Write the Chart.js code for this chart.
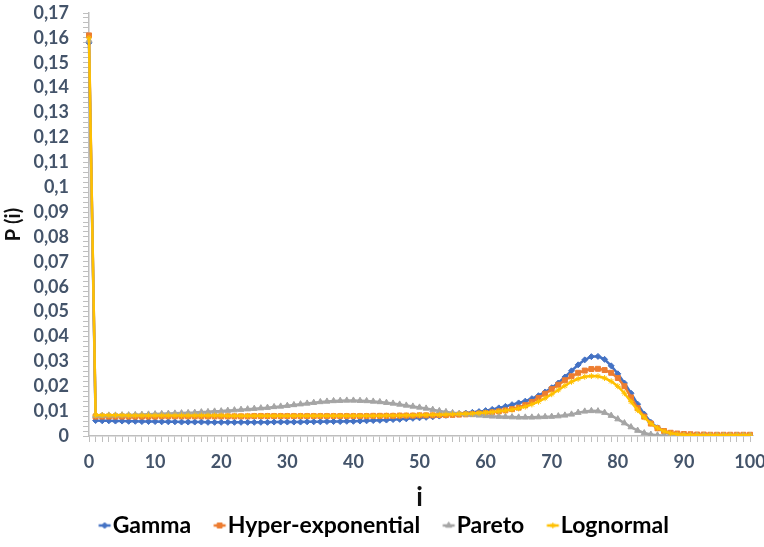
<!DOCTYPE html>
<html>
<head>
<meta charset="utf-8">
<script src="https://cdn.jsdelivr.net/npm/chart.js@4.4.1/dist/chart.umd.min.js"></script>
<style>
  body { margin: 0; background: #fff; }
  #chart { display: block; }
</style>
</head>
<body>
<canvas id="chart" width="764" height="547"></canvas>
<script>
// x categories (i = 0..100)
const iValues = [
  0, 1, 2, 3, 4, 5, 6, 7, 8, 9, 10, 11, 12, 13, 14, 15, 16, 17, 18, 19, 20,
  21, 22, 23, 24, 25, 26, 27, 28, 29, 30, 31, 32, 33, 34, 35, 36, 37, 38, 39, 40,
  41, 42, 43, 44, 45, 46, 47, 48, 49, 50, 51, 52, 53, 54, 55, 56, 57, 58, 59, 60,
  61, 62, 63, 64, 65, 66, 67, 68, 69, 70, 71, 72, 73, 74, 75, 76, 77, 78, 79, 80,
  81, 82, 83, 84, 85, 86, 87, 88, 89, 90, 91, 92, 93, 94, 95, 96, 97, 98, 99, 100
];

const gamma = [
  0.158,
  0.0062, 0.0061, 0.0061, 0.0060, 0.0060, 0.0059, 0.0059, 0.0058, 0.0058, 0.0058,
  0.0057, 0.0057, 0.0057, 0.0056, 0.0056, 0.0056, 0.0056, 0.0055, 0.0055, 0.0055,
  0.0055, 0.0055, 0.0055, 0.0055, 0.0055, 0.0055, 0.0055, 0.0056, 0.0056, 0.0056,
  0.0056, 0.0056, 0.0057, 0.0057, 0.0057, 0.0058, 0.0058, 0.0058, 0.0059, 0.0059,
  0.0060, 0.0061, 0.0062, 0.0063, 0.0064, 0.0066, 0.0067, 0.0069, 0.0071, 0.0073,
  0.0075, 0.0077, 0.0080, 0.0083, 0.0086, 0.0089, 0.0092, 0.0095, 0.0098, 0.0102,
  0.0107, 0.0113, 0.0119, 0.0126, 0.0133, 0.0140, 0.0150, 0.0162, 0.0177, 0.0194,
  0.0213, 0.0237, 0.0262, 0.0286, 0.0306, 0.0319, 0.0320, 0.0308, 0.0282, 0.0250,
  0.0213, 0.0172, 0.0128, 0.0088, 0.0055, 0.0033, 0.0019, 0.0011, 0.0006, 0.0003,
  0.0002, 0.0001, 0.0001, 0.0001, 0.0001, 0.0001, 0.0001, 0.0001, 0.0001, 0.0001
];

const hyperExp = [
  0.161,
  0.0078, 0.0078, 0.0078, 0.0078, 0.0078, 0.0078, 0.0078, 0.0078, 0.0078, 0.0078,
  0.0079, 0.0079, 0.0079, 0.0079, 0.0079, 0.0079, 0.0079, 0.0079, 0.0079, 0.0079,
  0.0079, 0.0079, 0.0079, 0.0079, 0.0080, 0.0080, 0.0080, 0.0080, 0.0080, 0.0080,
  0.0080, 0.0080, 0.0080, 0.0080, 0.0080, 0.0080, 0.0080, 0.0080, 0.0080, 0.0080,
  0.0080, 0.0080, 0.0081, 0.0081, 0.0081, 0.0081, 0.0082, 0.0082, 0.0082, 0.0083,
  0.0083, 0.0083, 0.0084, 0.0084, 0.0085, 0.0086, 0.0087, 0.0088, 0.0090, 0.0092,
  0.0095, 0.0099, 0.0103, 0.0108, 0.0114, 0.0124, 0.0137, 0.0153, 0.0170, 0.0188,
  0.0206, 0.0224, 0.0240, 0.0254, 0.0263, 0.0269, 0.0270, 0.0265, 0.0254, 0.0233,
  0.0200, 0.0155, 0.0112, 0.0078, 0.0050, 0.0031, 0.0020, 0.0013, 0.0010, 0.0008,
  0.0007, 0.0006, 0.0006, 0.0005, 0.0005, 0.0005, 0.0005, 0.0005, 0.0005, 0.0005
];

const pareto = [
  0.159,
  0.0082, 0.0082, 0.0083, 0.0083, 0.0084, 0.0084, 0.0085, 0.0086, 0.0087, 0.0088,
  0.0089, 0.0090, 0.0091, 0.0092, 0.0093, 0.0094, 0.0096, 0.0097, 0.0099, 0.0100,
  0.0102, 0.0104, 0.0106, 0.0108, 0.0110, 0.0112, 0.0114, 0.0117, 0.0119, 0.0122,
  0.0125, 0.0128, 0.0131, 0.0134, 0.0137, 0.0139, 0.0141, 0.0142, 0.0143, 0.0143,
  0.0142, 0.0141, 0.0139, 0.0137, 0.0134, 0.0131, 0.0127, 0.0123, 0.0119, 0.0115,
  0.0111, 0.0106, 0.0101, 0.0097, 0.0093, 0.0090, 0.0087, 0.0085, 0.0083, 0.0081,
  0.0079, 0.0078, 0.0077, 0.0076, 0.0075, 0.0075, 0.0075, 0.0076, 0.0077, 0.0078,
  0.0080, 0.0083, 0.0087, 0.0094, 0.0099, 0.0101, 0.0100, 0.0094, 0.0082, 0.0068,
  0.0052, 0.0036, 0.0022, 0.0012, 0.0006, 0.0003, 0.0002, 0.0002, 0.0002, 0.0002,
  0.0002, 0.0002, 0.0002, 0.0002, 0.0002, 0.0002, 0.0002, 0.0002, 0.0002, 0.0002
];

const lognormal = [
  0.160,
  0.0083, 0.0083, 0.0083, 0.0083, 0.0083, 0.0082, 0.0082, 0.0082, 0.0082, 0.0082,
  0.0082, 0.0082, 0.0082, 0.0082, 0.0082, 0.0082, 0.0082, 0.0082, 0.0082, 0.0082,
  0.0081, 0.0081, 0.0081, 0.0081, 0.0081, 0.0081, 0.0081, 0.0081, 0.0081, 0.0081,
  0.0081, 0.0081, 0.0081, 0.0081, 0.0081, 0.0081, 0.0081, 0.0081, 0.0081, 0.0081,
  0.0081, 0.0081, 0.0081, 0.0081, 0.0082, 0.0082, 0.0082, 0.0083, 0.0083, 0.0084,
  0.0084, 0.0085, 0.0085, 0.0086, 0.0087, 0.0088, 0.0089, 0.0090, 0.0092, 0.0094,
  0.0096, 0.0099, 0.0102, 0.0106, 0.0111, 0.0118, 0.0127, 0.0138, 0.0152, 0.0168,
  0.0185, 0.0202, 0.0218, 0.0230, 0.0238, 0.0241, 0.0240, 0.0233, 0.0220, 0.0200,
  0.0172, 0.0138, 0.0104, 0.0075, 0.0050, 0.0032, 0.0019, 0.0011, 0.0007, 0.0005,
  0.0004, 0.0003, 0.0003, 0.0003, 0.0003, 0.0003, 0.0003, 0.0003, 0.0003, 0.0003
];

const seriesNames = ['Gamma', 'Hyper-exponential', 'Pareto', 'Lognormal'];
const seriesColors = ['#4472C4', '#ED7D31', '#A5A5A5', '#FFC000'];
const seriesMarkers = ['rectRot', 'rect', 'triangle', 'star'];
const seriesRadius = [3, 3.5, 3.5, 3];

const tickColor = '#44546A';
const axisColor = '#BFBFBF';
const fontFamily = 'Lato, "Open Sans", sans-serif';

// legend icon: short line with the marker, drawn on the right of a wider
// transparent canvas so it sits close to the label text
function legendIcon(color, marker, radius) {
  const c = document.createElement('canvas');
  c.width = 34; c.height = 14;
  const g = c.getContext('2d');
  g.strokeStyle = color;
  g.fillStyle = color;
  g.lineWidth = 2.5;
  g.beginPath(); g.moveTo(16.5, 7); g.lineTo(28.5, 7); g.stroke();
  g.lineWidth = 1;
  Chart.helpers.drawPoint(g, {
    pointStyle: marker, radius: radius, rotation: 0, borderWidth: 1
  }, 22.5, 7);
  return c;
}

const allData = [gamma, hyperExp, pareto, lognormal];

const datasets = seriesNames.map((name, k) => ({
  label: name,
  data: allData[k],
  borderColor: seriesColors[k],
  backgroundColor: seriesColors[k],
  pointBackgroundColor: seriesColors[k],
  pointBorderColor: seriesColors[k],
  pointStyle: seriesMarkers[k],
  pointRadius: seriesRadius[k],
  pointBorderWidth: 1,
  borderWidth: 2.5,
  tension: 0,
  order: 4 - k
}));

new Chart(document.getElementById('chart'), {
  type: 'line',
  data: { labels: iValues, datasets: datasets },
  options: {
    responsive: false,
    animation: false,
    layout: { padding: { left: 16, right: 14, top: 13, bottom: 0 } },
    plugins: {
      tooltip: { enabled: false },
      legend: {
        position: 'bottom',
        labels: {
          usePointStyle: true,
          pointStyleWidth: 4,
          padding: 21,
          color: '#000',
          font: { family: fontFamily, size: 23, weight: 'bold' },
          generateLabels: (chart) => chart.data.datasets.map((ds, k) => ({
            text: ds.label,
            datasetIndex: k,
            fillStyle: ds.borderColor,
            strokeStyle: ds.borderColor,
            fontColor: '#000',
            lineWidth: 0,
            hidden: false,
            pointStyle: legendIcon(seriesColors[k], seriesMarkers[k], seriesRadius[k])
          }))
        }
      }
    },
    scales: {
      x: {
        type: 'category',
        offset: false,
        afterFit: (scale) => {
          scale.height = 57;
          scale.paddingLeft = 0;
          scale.paddingRight = 0;
        },
        grid: {
          drawOnChartArea: false,
          drawTicks: true,
          tickLength: 6,
          color: axisColor
        },
        border: { display: true, color: axisColor, width: 1.5 },
        ticks: {
          autoSkip: false,
          maxRotation: 0,
          padding: 9,
          color: tickColor,
          font: { family: fontFamily, size: 18, weight: 'bold' },
          callback: function (v, idx) { return iValues[idx] % 10 === 0 ? String(iValues[idx]) : ''; }
        },
        title: {
          display: true,
          text: 'i',
          color: '#111',
          padding: { top: 0, bottom: -20 },
          font: { family: fontFamily, size: 26, weight: 'bold' }
        }
      },
      y: {
        min: 0,
        max: 0.17,
        afterFit: (scale) => {
          scale.width = 73;
          scale.paddingTop = 0;
          scale.paddingBottom = 0;
        },
        grid: {
          drawOnChartArea: false,
          drawTicks: true,
          tickLength: 6,
          color: axisColor
        },
        border: { display: true, color: axisColor, width: 1.5 },
        ticks: {
          stepSize: 0.002,
          maxTicksLimit: 100,
          autoSkip: false,
          padding: 14,
          color: tickColor,
          font: { family: fontFamily, size: 18, weight: 'bold' },
          callback: function (v) {
            const r = Math.round(v * 1000);
            if (r % 10 !== 0) return '';
            return String(r / 1000).replace('.', ',');
          }
        },
        title: {
          display: true,
          text: 'P (i)',
          color: '#111',
          padding: { top: -14, bottom: 0 },
          font: { family: fontFamily, size: 20, weight: 'bold' }
        }
      }
    }
  }
});
</script>
</body>
</html>
